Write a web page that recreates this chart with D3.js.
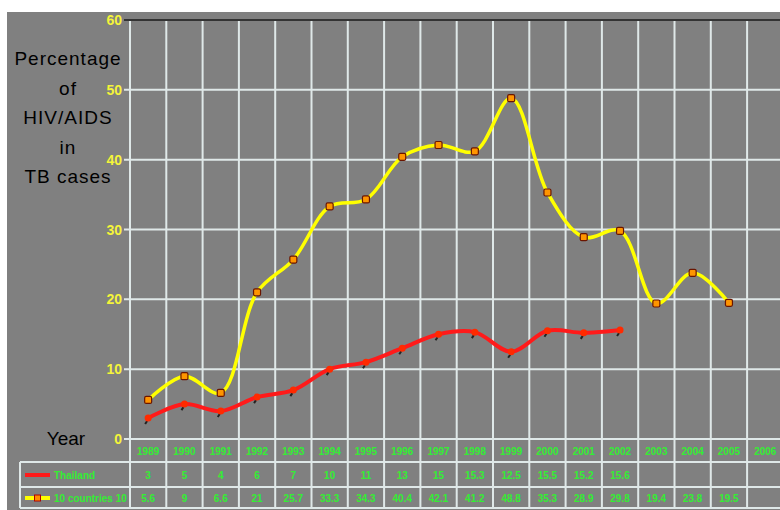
<!DOCTYPE html>
<html>
<head>
<meta charset="utf-8">
<script src="https://cdn.jsdelivr.net/npm/d3@7"></script>
<style>
  html, body { margin: 0; padding: 0; background: #ffffff; }
  svg { display: block; }
</style>
</head>
<body>
<div id="chart"></div>
<script>
// values
var years = [1989, 1990, 1991, 1992, 1993, 1994, 1995, 1996, 1997, 1998, 1999, 2000, 2001, 2002, 2003, 2004, 2005, 2006];
var thailand = [3, 5, 4, 6, 7, 10, 11, 13, 15, 15.3, 12.5, 15.5, 15.2, 15.6];
var tenCountries = [5.6, 9, 6.6, 21, 25.7, 33.3, 34.3, 40.4, 42.1, 41.2, 48.8, 35.3, 28.9, 29.8, 19.4, 23.8, 19.5];
var yTicks = [0, 10, 20, 30, 40, 50, 60];
var titleLines = ["Percentage", "of", "HIV/AIDS", "in", "TB cases"];
var seriesNames = ["Thailand", "10 countries 10"];

(function() {
  var width = 780, height = 510;
  var colW = 36.3, left = 130;
  var svg, x, y, grid, line, ptsT, rowY, green, font;

  green = "#33ee33";
  font = "Arial, 'Liberation Sans', sans-serif";

  svg = d3.select("#chart").append("svg")
    .attr("width", width).attr("height", height);

  svg.append("rect").attr("x", 7).attr("y", 12)
    .attr("width", width - 7).attr("height", height - 12)
    .style("fill", "#808080");

  x = d3.scaleBand().domain(years).range([left, left + years.length * colW]);
  y = d3.scaleLinear().domain([0, 60]).range([439, 20]);

  grid = svg.append("g").attr("class", "grid");

  // vertical column lines run through the plot and the table
  grid.selectAll(".vline").data(years.concat(["end"])).enter().append("line")
    .attr("class", "vline")
    .attr("x1", function(d, i) { return left + i * colW; })
    .attr("x2", function(d, i) { return left + i * colW; })
    .attr("y1", y(60)).attr("y2", 508)
    .style("stroke", "#dfe8e8").style("stroke-width", 2);

  grid.selectAll(".hline").data(yTicks.slice(0, -1)).enter().append("line")
    .attr("class", "hline")
    .attr("x1", left - 6).attr("x2", width)
    .attr("y1", function(d) { return y(d); })
    .attr("y2", function(d) { return y(d); })
    .style("stroke", "#dfe8e8").style("stroke-width", 2);

  svg.append("line").attr("x1", left - 6).attr("x2", width)
    .attr("y1", y(60)).attr("y2", y(60))
    .style("stroke", "#333333").style("stroke-width", 2);

  svg.selectAll(".ytick").data(yTicks).enter().append("text")
    .attr("class", "ytick")
    .attr("x", left - 8)
    .attr("y", function(d) { return y(d) + 5; })
    .attr("text-anchor", "end")
    .style("font-family", font)
    .style("font-weight", "bold").style("font-size", "14px")
    .style("fill", "#f4f43a")
    .text(function(d) { return d; });

  svg.selectAll(".title").data(titleLines).enter().append("text")
    .attr("class", "title")
    .attr("x", 68)
    .attr("y", function(d, i) { return 65 + i * 29.5; })
    .attr("text-anchor", "middle")
    .style("font-family", font)
    .style("font-size", "19px").style("letter-spacing", "1px")
    .style("fill", "#000000")
    .text(function(d) { return d; });

  svg.append("text").attr("x", 66).attr("y", 445)
    .attr("text-anchor", "middle")
    .style("font-family", font)
    .style("font-size", "19px").style("fill", "#000000")
    .text("Year");

  // data table under the plot
  rowY = [451, 475, 498];
  [462, 487, 508].forEach(function(yy) {
    svg.append("line").attr("x1", 20).attr("x2", width)
      .attr("y1", yy).attr("y2", yy)
      .style("stroke", "#dfe8e8").style("stroke-width", 2);
  });
  svg.append("line").attr("x1", 20).attr("x2", 20)
    .attr("y1", 462).attr("y2", 508)
    .style("stroke", "#dfe8e8").style("stroke-width", 2);

  function cellText(arr, ry, cls) {
    svg.selectAll("." + cls).data(arr).enter().append("text")
      .attr("class", cls)
      .attr("x", function(d, i) { return x(years[i]) + x.bandwidth() / 2; })
      .attr("y", ry + 4)
      .attr("text-anchor", "middle")
      .style("font-family", font)
      .style("font-weight", "bold").style("font-size", "10px")
      .style("fill", green)
      .text(function(d) { return d; });
  }
  cellText(years, rowY[0], "yr");
  cellText(thailand, rowY[1], "vt");
  cellText(tenCountries, rowY[2], "vc");

  // legend cells
  svg.append("line").attr("x1", 25).attr("x2", 50)
    .attr("y1", rowY[1]).attr("y2", rowY[1])
    .style("stroke", "#ff1a1a").style("stroke-width", 4);
  svg.append("line").attr("x1", 25).attr("x2", 50)
    .attr("y1", rowY[2]).attr("y2", rowY[2])
    .style("stroke", "#ffff00").style("stroke-width", 4);
  svg.append("rect").attr("x", 34.5).attr("y", rowY[2] - 3)
    .attr("width", 6).attr("height", 6)
    .style("fill", "#ff8c00").style("stroke", "#b00000").style("stroke-width", 1);
  svg.selectAll(".leg").data(seriesNames).enter().append("text")
    .attr("class", "leg")
    .attr("x", 54)
    .attr("y", function(d, i) { return rowY[i + 1] + 4; })
    .style("font-family", font)
    .style("font-weight", "bold").style("font-size", "10px")
    .style("fill", green)
    .text(function(d) { return d; });

  // series
  function px(d, i) { return x(years[i]) + x.bandwidth() / 2; }

  line = d3.line().x(px).y(function(d) { return y(d); })
    .curve(d3.curveCatmullRom.alpha(0.5));

  svg.append("path").datum(thailand).attr("d", line)
    .style("fill", "none").style("stroke", "#ff1a1a")
    .style("stroke-width", 4).style("stroke-linejoin", "round");

  ptsT = svg.selectAll(".pt").data(thailand).enter().append("g").attr("class", "pt");
  ptsT.append("path")
    .attr("d", function(d, i) {
      var cx = px(d, i), cy = y(d);
      return "M" + (cx - 1) + "," + (cy + 3) + "L" + (cx - 3) + "," + (cy + 6);
    })
    .style("stroke", "#222222").style("stroke-width", 2);
  ptsT.append("circle")
    .attr("cx", px).attr("cy", function(d) { return y(d); })
    .attr("r", 3.5).style("fill", "#ff2a00");

  svg.append("path").datum(tenCountries).attr("d", line)
    .style("fill", "none").style("stroke", "#ffff00")
    .style("stroke-width", 3.5).style("stroke-linejoin", "round");

  svg.selectAll(".pc").data(tenCountries).enter().append("rect")
    .attr("class", "pc")
    .attr("x", function(d, i) { return px(d, i) - 3.5; })
    .attr("y", function(d) { return y(d) - 3.5; })
    .attr("width", 7).attr("height", 7).attr("rx", 1.5)
    .style("fill", "#ff9500").style("stroke", "#6a1500").style("stroke-width", 1.2);
})();
</script>
</body>
</html>
